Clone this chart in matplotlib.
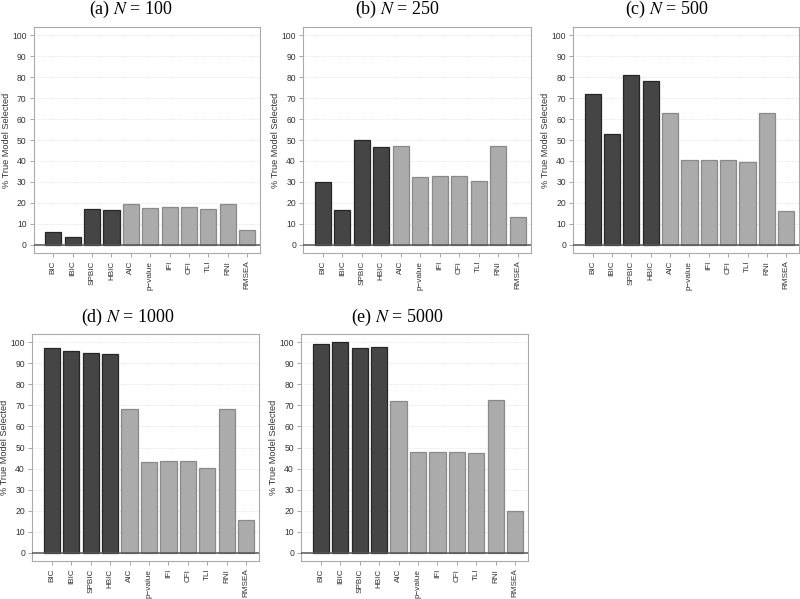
import matplotlib
matplotlib.use("Agg")
import matplotlib.pyplot as plt
import numpy as np

plt.rcParams['mathtext.fontset'] = 'stix'
plt.rcParams['font.family'] = ['Liberation Sans', 'DejaVu Sans']

criteria = ["BIC", "IBIC", "SPBIC", "HBIC", "AIC", "p\u2212value", "IFI", "CFI", "TLI", "RNI", "RMSEA"]
n_dark = 4

titles = [r"(a) $N$ = 100", r"(b) $N$ = 250", r"(c) $N$ = 500", r"(d) $N$ = 1000", r"(e) $N$ = 5000"]

vals_100  = [5.9, 3.6, 16.9, 16.4, 19.5, 17.6, 18.0, 18.0, 17.1, 19.5, 7.1]
vals_250  = [29.7, 16.7, 50.0, 46.8, 47.1, 32.4, 32.9, 32.9, 30.3, 47.0, 13.2]
vals_500  = [72.1, 52.9, 81.1, 78.1, 62.7, 40.6, 40.5, 40.5, 39.5, 62.7, 16.0]
vals_1000 = [97.3, 95.7, 94.9, 94.3, 68.5, 43.2, 43.7, 43.7, 40.4, 68.2, 15.6]
vals_5000 = [99.2, 100.0, 97.5, 97.8, 72.3, 47.7, 48.0, 48.0, 47.2, 72.5, 20.0]

all_vals = [vals_100, vals_250, vals_500, vals_1000, vals_5000]

W, H = 800, 599
fig = plt.figure(figsize=(W / 100, H / 100), dpi=100)

# axes frames in pixel coords: (left, top, right, bottom)
frames = [(33.5, 27, 260, 253), (303, 27, 530.5, 253), (573, 27, 799, 253),
          (32, 334, 259, 561), (301, 334, 528, 561)]
title_pos = [(131, 9), (397, 9), (667, 9), (128, 317), (397, 317)]

dark_face, dark_edge = "#454545", "#262626"
light_face, light_edge = "#ababab", "#8a8a8a"

for i, (vals, fr) in enumerate(zip(all_vals, frames)):
    l, t, r, b = fr
    ax = fig.add_axes([l / W, 1 - b / H, (r - l) / W, (b - t) / H])
    x = np.arange(len(criteria))
    colors = [dark_face if k < n_dark else light_face for k in range(len(criteria))]
    edges = [dark_edge if k < n_dark else light_edge for k in range(len(criteria))]
    ax.bar(x, vals, width=0.833, color=colors, edgecolor=edges, linewidth=0.9, zorder=3)
    ax.set_xlim(-1.02, 10.66)
    ax.set_ylim(-4, 104)
    ax.set_yticks(np.arange(0, 101, 10))
    for yv in np.arange(10, 101, 10):
        ax.axhline(yv, color="#dddddd", lw=0.6, ls=(0, (1, 1.5)), zorder=1)
    ax.axhline(0, color="#555555", lw=1.1, zorder=4)
    ax.set_xticks(x)
    ax.set_xticklabels(criteria, rotation=90, fontsize=5.9, color="#333333")
    ax.tick_params(axis='y', labelsize=6.2, labelcolor="#333333", colors="#999999",
                   length=3, width=0.6, pad=2)
    ax.tick_params(axis='x', colors="#999999", labelcolor="#333333", length=3, width=0.6, pad=2.5)
    for sp in ax.spines.values():
        sp.set_color("#aaaaaa")
        sp.set_linewidth(0.8)
    ax.set_ylabel("% True Model Selected", fontsize=6.6, color="#333333", labelpad=1)
    tx, ty = title_pos[i]
    fig.text(tx / W, 1 - ty / H, titles[i], ha="center", va="center",
             fontsize=13, family="Liberation Serif")

fig.savefig("out.png", dpi=100)
